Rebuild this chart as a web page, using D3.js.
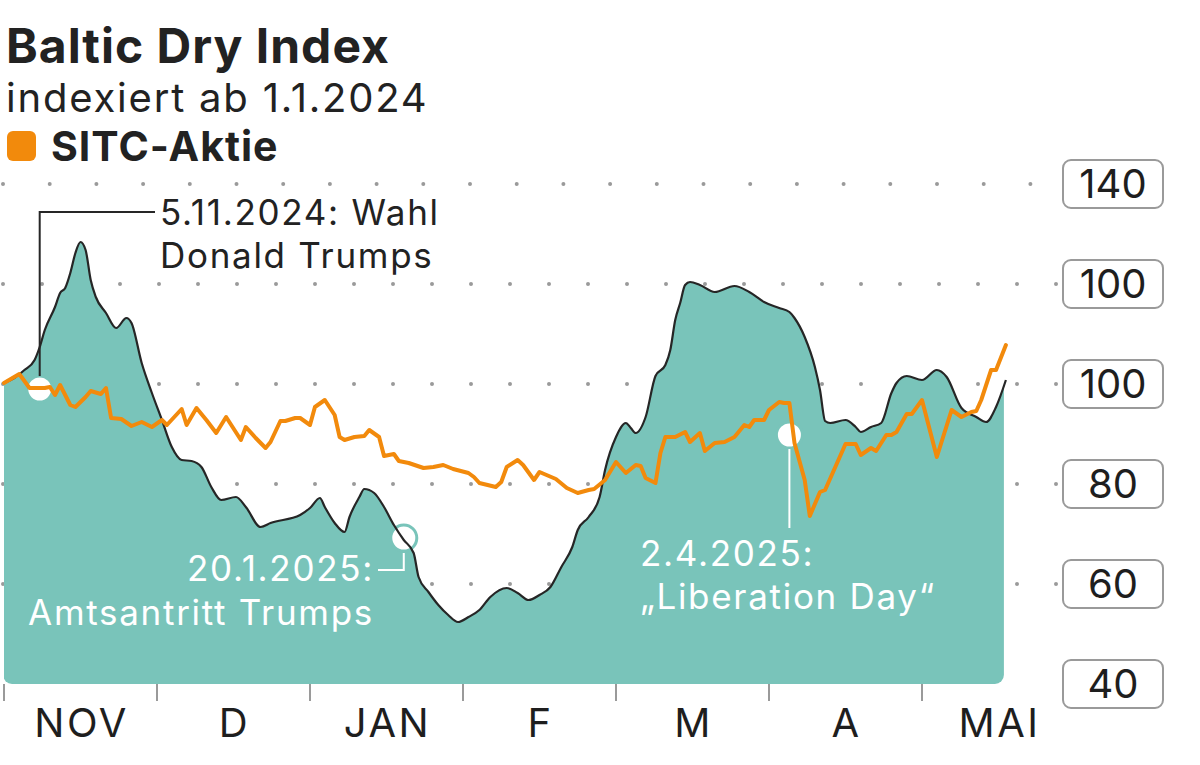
<!DOCTYPE html>
<html><head><meta charset="utf-8">
<script src="https://cdn.jsdelivr.net/npm/d3@7"></script>
<style>
body{margin:0;background:#fff;}
svg{display:block;font-family:Inter,"Noto Sans",sans-serif;}
</style></head><body>
<svg id="chart" width="1200" height="765"></svg>
<script>
// ---- data ----
const bdiDates = ["2024-11-01","2024-11-03","2024-11-05","2024-11-07","2024-11-08","2024-11-09","2024-11-11","2024-11-12","2024-11-13","2024-11-14","2024-11-15","2024-11-16","2024-11-17","2024-11-18","2024-11-19","2024-11-21","2024-11-23","2024-11-25","2024-11-26","2024-11-28","2024-11-30",
"2024-12-02","2024-12-04","2024-12-06","2024-12-08","2024-12-10","2024-12-12","2024-12-14","2024-12-17","2024-12-19","2024-12-22","2024-12-24","2024-12-30",
"2025-01-01","2025-01-03","2025-01-04","2025-01-06","2025-01-08","2025-01-09","2025-01-11","2025-01-12","2025-01-14","2025-01-16","2025-01-18","2025-01-20","2025-01-22","2025-01-23","2025-01-25","2025-01-27","2025-01-29","2025-01-31",
"2025-02-02","2025-02-04","2025-02-06","2025-02-09","2025-02-11","2025-02-13","2025-02-15","2025-02-17","2025-02-19","2025-02-21","2025-02-22","2025-02-24","2025-02-26","2025-02-27",
"2025-03-01","2025-03-03","2025-03-04","2025-03-05","2025-03-07","2025-03-09","2025-03-11","2025-03-12","2025-03-13","2025-03-14","2025-03-15","2025-03-16","2025-03-18","2025-03-21","2025-03-25","2025-03-28","2025-03-31",
"2025-04-03","2025-04-05","2025-04-06","2025-04-08","2025-04-10","2025-04-11","2025-04-12","2025-04-13","2025-04-16","2025-04-18","2025-04-19","2025-04-21","2025-04-23","2025-04-25","2025-04-26","2025-04-28",
"2025-05-01","2025-05-04","2025-05-06","2025-05-09","2025-05-12","2025-05-14","2025-05-16","2025-05-18"];
const bdiValues = [100.2,101.2,102.8,104.8,107.4,110.8,115.4,118.2,119.2,122.2,126.2,128.4,126.8,120.8,117.4,114.2,111.2,113.2,112.2,104.2,98.2,
92.8,87.4,84.8,84.6,83.4,79.4,76.8,77.4,75.4,71.4,72.2,73.8,
75.2,77.2,75.4,72.2,70.4,73.4,77.4,79.0,78.2,75.4,71.8,68.8,66.2,61.4,58.4,55.8,53.8,52.4,
53.4,54.8,57.4,59.2,58.2,56.8,57.8,59.4,63.4,67.4,70.8,73.4,77.4,82.8,
89.4,92.2,91.2,90.2,93.4,101.6,103.8,106.8,112.8,116.2,119.8,120.4,119.8,118.4,119.6,118.4,116.4,
115.2,114.4,113.2,109.4,103.4,98.8,92.6,92.2,92.8,91.4,90.4,91.4,92.2,98.2,100.2,101.6,
100.8,102.8,101.4,95.2,93.4,92.4,95.4,100.8];

const sitcDates = ["2024-11-01","2024-11-04","2024-11-06","2024-11-09","2024-11-10","2024-11-11","2024-11-12","2024-11-14","2024-11-15","2024-11-17","2024-11-18","2024-11-20","2024-11-21","2024-11-22","2024-11-24","2024-11-26","2024-11-28","2024-11-30",
"2024-12-02","2024-12-03","2024-12-06","2024-12-07","2024-12-09","2024-12-11","2024-12-13","2024-12-15","2024-12-18","2024-12-19","2024-12-21","2024-12-23","2024-12-24","2024-12-26","2024-12-27","2024-12-29","2024-12-30",
"2025-01-01","2025-01-02","2025-01-04","2025-01-06","2025-01-07","2025-01-08","2025-01-10","2025-01-12","2025-01-13","2025-01-15","2025-01-16","2025-01-18","2025-01-19","2025-01-21","2025-01-24","2025-01-26","2025-01-28","2025-01-30",
"2025-02-02","2025-02-03","2025-02-04","2025-02-07","2025-02-08","2025-02-09","2025-02-11","2025-02-12","2025-02-14","2025-02-15","2025-02-18","2025-02-20","2025-02-22","2025-02-24","2025-02-25","2025-02-27",
"2025-03-01","2025-03-03","2025-03-05","2025-03-06","2025-03-07","2025-03-09","2025-03-10","2025-03-11","2025-03-13","2025-03-15","2025-03-16","2025-03-18","2025-03-19","2025-03-21","2025-03-23","2025-03-25","2025-03-27","2025-03-28","2025-03-29","2025-03-31",
"2025-04-01","2025-04-03","2025-04-04","2025-04-05","2025-04-06","2025-04-08","2025-04-09","2025-04-11","2025-04-12","2025-04-14","2025-04-16","2025-04-18","2025-04-19","2025-04-21","2025-04-22","2025-04-24","2025-04-25","2025-04-26","2025-04-28","2025-04-29",
"2025-05-01","2025-05-04","2025-05-07","2025-05-09","2025-05-11","2025-05-12","2025-05-13","2025-05-15","2025-05-16","2025-05-18"];
const sitcValues = [100.2,102.0,99.2,99.2,99.4,97.8,99.8,95.8,95.4,97.4,98.6,98.0,99.2,93.2,93.0,91.6,92.4,91.4,
92.8,91.8,95.0,91.8,95.2,92.8,90.2,93.4,88.8,91.4,89.2,87.2,88.4,92.6,92.6,93.2,93.2,
91.8,95.4,96.8,93.8,89.4,88.8,89.4,89.6,90.8,89.4,85.6,86.0,84.6,84.2,83.2,83.4,83.8,83.0,
82.2,81.4,80.2,79.4,80.4,83.4,84.8,83.8,80.8,82.4,81.0,79.2,78.2,78.8,79.0,80.8,
84.4,82.2,83.8,83.6,81.2,80.2,86.2,89.4,89.4,90.4,88.4,90.2,86.6,88.2,88.4,89.4,91.8,91.4,92.8,92.8,
94.8,96.4,96.2,96.2,88.2,80.8,73.6,78.4,78.8,83.4,88.0,88.0,85.8,87.2,86.6,89.8,89.8,90.4,94.0,94.0,
96.8,85.4,94.8,93.4,94.4,94.6,96.8,102.8,102.8,107.8];

const monthLabels = ["NOV","D","JAN","F","M","A","MAI"];
const yTicks = [40,60,80,100,120,140];
const yTickLabels = ["40","60","80","100","100","140"];
const annoDates = ["2024-11-08","2025-01-20","2025-04-05"];
const annoValues = [99.0,69.2,89.8];
const annoTexts = [["5.11.2024: Wahl","Donald Trumps"],["20.1.2025:","Amtsantritt Trumps"],["2.4.2025:","\u201ELiberation Day\u201C"]];

// ---- helpers ----
function monthPos(s){
  const [Y,M,D] = s.split("-").map(Number);
  const idx = (Y-2024)*12 + (M-1) - 10;
  const days = new Date(Y, M, 0).getDate();
  return idx + (D-1)/days;
}
const TEAL = "#79c4ba", ORANGE = "#f28a0c", DARK = "#262626", GRID = "#9a9a9a";

const svg = d3.select("#chart");
const x = d3.scaleLinear().domain([0,6]).range([4,922]);
const y = d3.scaleLinear().domain([40,140]).range([684,184]);

const bdi = bdiDates.map((d,i)=>({x:monthPos(d), v:bdiValues[i]}));
const sitc = sitcDates.map((d,i)=>({x:monthPos(d), v:sitcValues[i]}));

// dotted grid
yTicks.filter(v=>v>40).forEach(v=>{
  const step = v===140 ? 46.7 : 39;
  const xEnd = v===140 ? 1032 : 1058;
  svg.append("line").attr("x1",3).attr("x2",xEnd).attr("y1",y(v)).attr("y2",y(v))
    .attr("stroke",GRID).attr("stroke-width",4).attr("stroke-linecap","round")
    .attr("stroke-dasharray",`0 ${step}`);
});

// clip with rounded bottom corners
const x0 = x(bdi[0].x), x1 = x(bdi[bdi.length-1].x);
svg.append("defs").append("clipPath").attr("id","clip")
  .append("rect").attr("x",x0-1).attr("y",100).attr("width",x1-x0-1).attr("height",y(40)-100).attr("rx",9);

const area = d3.area().x(d=>x(d.x)).y0(y(40)).y1(d=>y(d.v)).curve(d3.curveMonotoneX);
svg.append("path").datum(bdi).attr("d",area).attr("fill",TEAL).attr("clip-path","url(#clip)");

// axis ticks + labels
const months = d3.range(0,7);
svg.append("g").selectAll("line").data(months).join("line")
  .attr("x1",d=>x(d)).attr("x2",d=>x(d)).attr("y1",y(40)).attr("y2",y(40)+17)
  .attr("stroke",GRID).attr("stroke-width",2);
svg.append("g").selectAll("text").data(monthLabels).join("text")
  .attr("x",(d,i)=>x(i+0.5)+1).attr("y",737).attr("text-anchor","middle")
  .attr("font-size",40).attr("letter-spacing",2.5).attr("fill","#1e1e1e").text(d=>d);

// annotation circles
const annos = annoDates.map((d,i)=>({x:x(monthPos(d)), y:y(annoValues[i]), t:annoTexts[i]}));
svg.append("g").selectAll("circle").data(annos).join("circle")
  .attr("cx",d=>d.x).attr("cy",d=>d.y).attr("r",13)
  .attr("fill","#fff").attr("stroke",TEAL).attr("stroke-width",3);

// BDI line
const line = d3.line().x(d=>x(d.x)).y(d=>y(d.v)).curve(d3.curveMonotoneX);
svg.append("path").datum(bdi).attr("d",line).attr("fill","none").attr("stroke",DARK).attr("stroke-width",2.2);

const AFS = 35, ALS = 1.7;
// annotation 1 (dark)
const a1 = annos[0];
svg.append("path").attr("d",`M${a1.x},${a1.y-13}V212H155`).attr("fill","none").attr("stroke",DARK).attr("stroke-width",2);
[0,1].forEach(k=>svg.append("text").attr("x",160).attr("y",225+43*k).attr("font-size",AFS).attr("letter-spacing",ALS).attr("fill","#222").text(a1.t[k]));

// annotation 2 (white, right aligned)
const a2 = annos[1];
svg.append("path").attr("d",`M${a2.x},${a2.y+15}V570H378`).attr("fill","none").attr("stroke","#fff").attr("stroke-width",2);
[0,1].forEach(k=>svg.append("text").attr("x",374).attr("y",581+44*k).attr("text-anchor","end").attr("font-size",AFS).attr("letter-spacing",ALS).attr("fill","#fff").text(a2.t[k]));

// annotation 3 (white)
const a3 = annos[2];
svg.append("path").attr("d",`M${a3.x},${a3.y+14}V528`).attr("fill","none").attr("stroke","#fff").attr("stroke-width",2);
[0,1].forEach(k=>svg.append("text").attr("x",640).attr("y",566+43*k).attr("font-size",AFS).attr("letter-spacing",ALS).attr("fill","#fff").text(a3.t[k]));

// SITC line
const line2 = d3.line().x(d=>x(d.x)).y(d=>y(d.v));
svg.append("path").datum(sitc).attr("d",line2).attr("fill","none").attr("stroke",ORANGE)
  .attr("stroke-width",4).attr("stroke-linejoin","round").attr("stroke-linecap","round");

// y labels in boxes
const yl = svg.append("g").selectAll("g").data(yTicks).join("g")
  .attr("transform",d=>`translate(1113,${y(d)})`);
yl.append("rect").attr("x",-50).attr("y",-24).attr("width",100).attr("height",48).attr("rx",8)
  .attr("fill","#fff").attr("stroke",GRID).attr("stroke-width",2);
yl.append("text").attr("text-anchor","middle").attr("y",14).attr("font-size",40).attr("fill","#1e1e1e")
  .text((d,i)=>yTickLabels[i]);

// title, subtitle, legend
svg.append("text").attr("x",6).attr("y",63).attr("font-size",48).attr("letter-spacing",1).attr("font-weight",700).attr("fill","#222").text("Baltic Dry Index");
svg.append("text").attr("x",6).attr("y",112).attr("font-size",40).attr("letter-spacing",1.8).attr("fill","#222").text("indexiert ab 1.1.2024");
svg.append("rect").attr("x",7).attr("y",131).attr("width",29).attr("height",30).attr("rx",6).attr("fill",ORANGE);
svg.append("text").attr("x",51).attr("y",161).attr("font-size",41).attr("letter-spacing",1).attr("font-weight",700).attr("fill","#222").text("SITC-Aktie");
</script>
</body></html>
